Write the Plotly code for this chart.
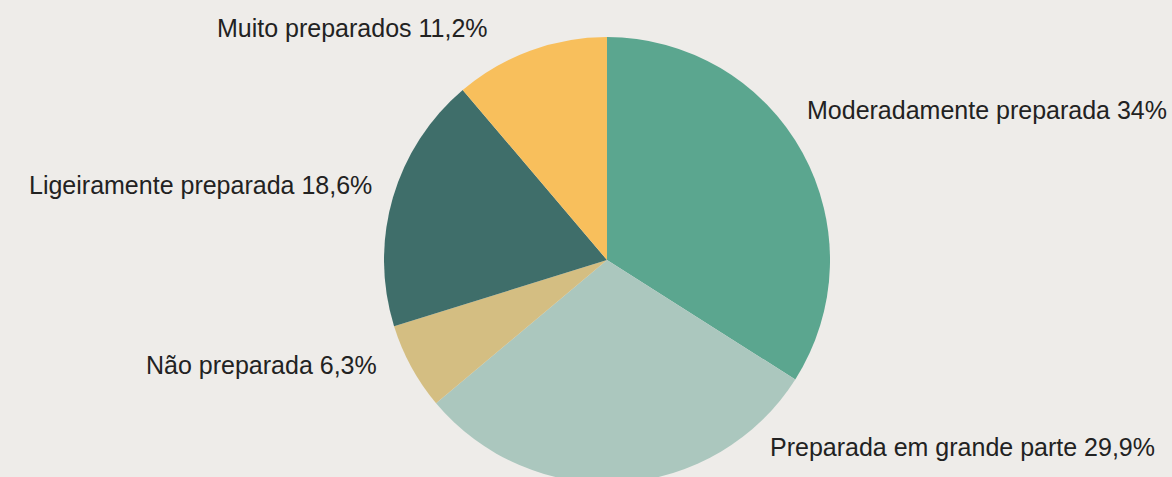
import plotly.graph_objects as go

categories = [
    "Moderadamente preparada",
    "Preparada em grande parte",
    "Não preparada",
    "Ligeiramente preparada",
    "Muito preparados",
]
values = [34.0, 29.9, 6.3, 18.6, 11.2]
value_labels = ["34%", "29,9%", "6,3%", "18,6%", "11,2%"]
colors = ["#5BA68F", "#ABC7BE", "#D4BE82", "#3F6E6A", "#F8BF5C"]

W, H = 1172, 500
BG = "#EEECE9"

# label anchor positions in pixels (x, y, xanchor)
label_pos = [
    (805, 110, "left"),
    (768, 447, "left"),
    (379, 365, "right"),
    (374, 185, "right"),
    (490, 28, "right"),
]

cx, cy, r = 607, 260, 223

fig = go.Figure(
    go.Pie(
        labels=categories,
        values=values,
        sort=False,
        direction="clockwise",
        rotation=0,
        marker=dict(colors=colors, line=dict(width=0)),
        textinfo="none",
        hoverinfo="label+percent",
        showlegend=False,
        domain=dict(x=[(cx - r) / W, (cx + r) / W], y=[1 - (cy + r) / H, 1 - (cy - r) / H]),
    )
)

for cat, lab, (px, py, xa) in zip(categories, value_labels, label_pos):
    fig.add_annotation(
        x=px / W, y=1 - py / H, xref="paper", yref="paper",
        xanchor=xa, yanchor="middle", showarrow=False,
        text=f"{cat} {lab}",
        font=dict(family="Liberation Sans, Arial, sans-serif", size=25, color="#222222"),
    )

fig.update_layout(
    width=W, height=H,
    margin=dict(l=0, r=0, t=0, b=0),
    paper_bgcolor=BG, plot_bgcolor=BG,
)

fig.write_html(
    "out.html",
    config={"displayModeBar": False},
    post_script="document.body.style.margin='0';document.body.style.overflow='hidden';document.body.style.background='#EEECE9';",
)
